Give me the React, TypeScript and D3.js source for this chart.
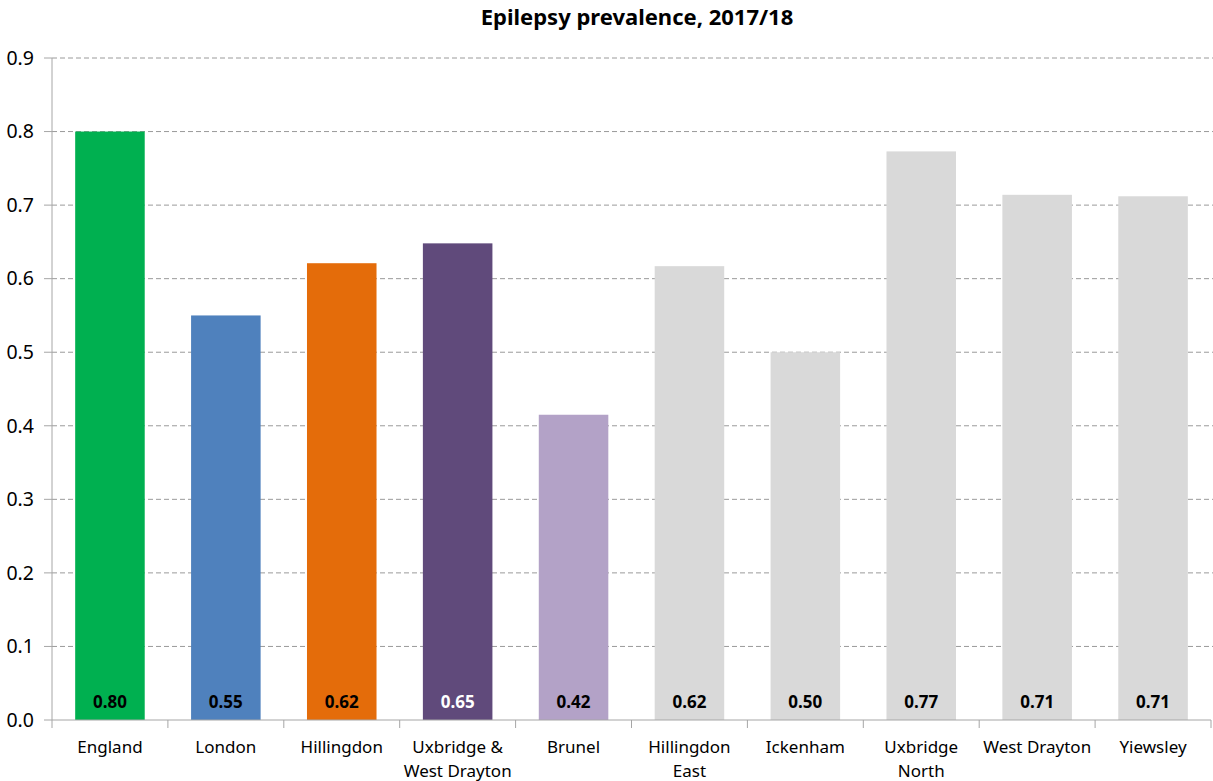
import React from "react";
import { scaleBand, scaleLinear } from "d3";

const categories = [
  "England",
  "London",
  "Hillingdon",
  "Uxbridge & West Drayton",
  "Brunel",
  "Hillingdon East",
  "Ickenham",
  "Uxbridge North",
  "West Drayton",
  "Yiewsley",
];
const categoryLines = [
  ["England"],
  ["London"],
  ["Hillingdon"],
  ["Uxbridge &", "West Drayton"],
  ["Brunel"],
  ["Hillingdon", "East"],
  ["Ickenham"],
  ["Uxbridge", "North"],
  ["West Drayton"],
  ["Yiewsley"],
];
const values = [0.8, 0.55, 0.621, 0.648, 0.415, 0.617, 0.5, 0.773, 0.714, 0.712];
const valueLabels = ["0.80", "0.55", "0.62", "0.65", "0.42", "0.62", "0.50", "0.77", "0.71", "0.71"];
const barColors = [
  "#00B050",
  "#4F81BD",
  "#E46C0A",
  "#604A7B",
  "#B3A2C7",
  "#D9D9D9",
  "#D9D9D9",
  "#D9D9D9",
  "#D9D9D9",
  "#D9D9D9",
];
const labelColors = ["#000", "#000", "#000", "#fff", "#000", "#000", "#000", "#000", "#000", "#000"];
const yTicks = [0, 0.1, 0.2, 0.3, 0.4, 0.5, 0.6, 0.7, 0.8, 0.9];

const W = 1213;
const H = 781;
const left = 52;
const right = 1211;
const top = 58;
const bottom = 720;
const font = "'Noto Sans', 'Open Sans', sans-serif";

export default function App() {
  const x = scaleBand<string>().domain(categories).range([left, right]).paddingInner(0.4).paddingOuter(0.2);
  const y = scaleLinear().domain([0, 0.9]).range([bottom, top]);
  const edges = categories.map((c) => x(c)! - (x.step() * x.paddingInner()) / 2);
  edges.push(right);

  return (
    <svg width={W} height={H} style={{ position: "absolute", left: 0, top: 0, background: "#fff" }} fontFamily={font}>
      <text x={637} y={25} textAnchor="middle" fontSize={22} fontWeight="bold" fill="#000">
        Epilepsy prevalence, 2017/18
      </text>

      {yTicks.slice(1).map((t) => (
        <line key={t} x1={left} x2={W} y1={y(t)} y2={y(t)} stroke="#9a9a9a" strokeDasharray="5,3" strokeWidth={1} />
      ))}

      {categories.map((c, i) => (
        <rect key={c} x={x(c)} y={y(values[i])} width={x.bandwidth()} height={bottom - y(values[i])} fill={barColors[i]} />
      ))}

      {categories.map((c, i) => (
        <text
          key={c}
          x={x(c)! + x.bandwidth() / 2}
          y={bottom - 12}
          textAnchor="middle"
          fontSize={17}
          fontWeight="bold"
          fill={labelColors[i]}
        >
          {valueLabels[i]}
        </text>
      ))}

      <line x1={left} x2={left} y1={top} y2={bottom} stroke="#a6a6a6" />
      <line x1={left} x2={right} y1={bottom} y2={bottom} stroke="#a6a6a6" />
      {yTicks.map((t) => (
        <g key={t}>
          <line x1={left - 8} x2={left} y1={y(t)} y2={y(t)} stroke="#a6a6a6" />
          <text x={34} y={y(t)} dy="0.35em" textAnchor="end" fontSize={19.5} fill="#000">
            {t.toFixed(1)}
          </text>
        </g>
      ))}
      {edges.map((e, i) => (
        <line key={i} x1={e} x2={e} y1={bottom} y2={bottom + 8} stroke="#a6a6a6" />
      ))}

      {categories.map((c, i) => (
        <text key={c} textAnchor="middle" fontSize={17} fill="#000">
          {categoryLines[i].map((l, j) => (
            <tspan key={j} x={x(c)! + x.bandwidth() / 2} y={753 + j * 24}>
              {l}
            </tspan>
          ))}
        </text>
      ))}
    </svg>
  );
}
